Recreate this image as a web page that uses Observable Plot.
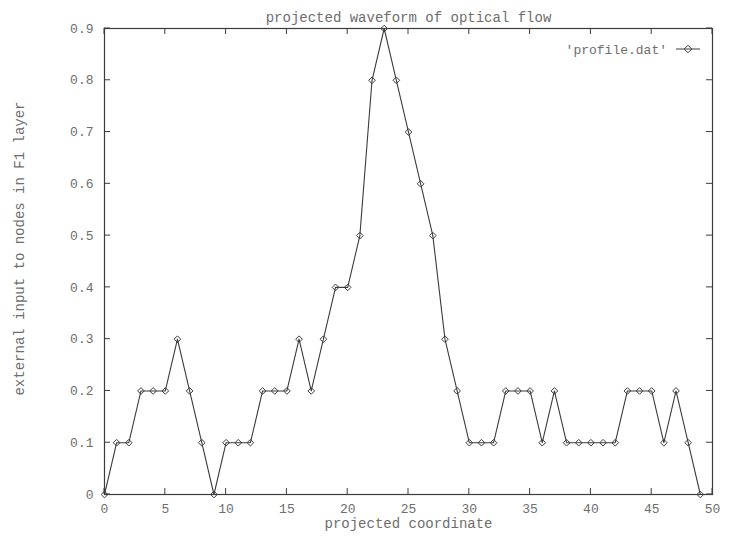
<!DOCTYPE html>
<html><head><meta charset="utf-8">
<script src="https://cdn.jsdelivr.net/npm/d3@7"></script>
<script src="https://cdn.jsdelivr.net/npm/@observablehq/plot@0.6"></script>
<style>body{margin:0;background:#fff}</style>
</head><body><div id="chart"></div>
<script>
const xs = [0,1,2,3,4,5,6,7,8,9,10,11,12,13,14,15,16,17,18,19,20,21,22,23,24,25,26,27,28,29,30,31,32,33,34,35,36,37,38,39,40,41,42,43,44,45,46,47,48,49];
const ys = [0,0.1,0.1,0.2,0.2,0.2,0.3,0.2,0.1,0,0.1,0.1,0.1,0.2,0.2,0.2,0.3,0.2,0.3,0.4,0.4,0.5,0.8,0.9,0.8,0.7,0.6,0.5,0.3,0.2,0.1,0.1,0.1,0.2,0.2,0.2,0.1,0.2,0.1,0.1,0.1,0.1,0.1,0.2,0.2,0.2,0.1,0.2,0.1,0];
const xTicks = [0,5,10,15,20,25,30,35,40,45,50];
const yTicks = [0,0.1,0.2,0.3,0.4,0.5,0.6,0.7,0.8,0.9];
const titleText = "projected waveform of optical flow";
const xLabelText = "projected coordinate";
const yLabelText = "external input to nodes in F1 layer";
const legendText = "'profile.dat'";

const data = xs.map((x, i) => ({x, y: ys[i]}));
const INK = "#3c3c3c", TXT = "#6e6e6e";
const svgNS = "http://www.w3.org/2000/svg";

function inwardTicks(index, scales, values, dim) {
  const g = document.createElementNS(svgNS, "g");
  g.setAttribute("stroke", INK);
  g.setAttribute("stroke-width", "1");
  const L = dim.marginLeft, R = dim.width - dim.marginRight, T = dim.marginTop, B = dim.height - dim.marginBottom;
  const len = 6;
  const add = (x1, y1, x2, y2) => {
    const l = document.createElementNS(svgNS, "line");
    l.setAttribute("x1", x1); l.setAttribute("y1", y1); l.setAttribute("x2", x2); l.setAttribute("y2", y2);
    g.appendChild(l);
  };
  for (const t of xTicks) { const px = scales.x(t); add(px, B, px, B - len); add(px, T, px, T + len); }
  for (const t of yTicks) { const py = scales.y(t); add(L, py, L + len, py); add(R, py, R - len, py); }
  return g;
}

function legend(index, scales, values, dim) {
  const g = document.createElementNS(svgNS, "g");
  const R = dim.width - dim.marginRight, T = dim.marginTop;
  const y = T + 21;
  const t = document.createElementNS(svgNS, "text");
  t.setAttribute("x", R - 45); t.setAttribute("y", y);
  t.setAttribute("text-anchor", "end"); t.setAttribute("dy", "0.35em");
  t.setAttribute("fill", TXT); t.setAttribute("font-size", "13");
  t.textContent = legendText;
  g.appendChild(t);
  const l = document.createElementNS(svgNS, "line");
  l.setAttribute("x1", R - 36); l.setAttribute("x2", R - 12);
  l.setAttribute("y1", y); l.setAttribute("y2", y);
  l.setAttribute("stroke", INK);
  g.appendChild(l);
  const p = document.createElementNS(svgNS, "path");
  const cx = R - 24, s = 3.8;
  p.setAttribute("d", `M${cx},${y - s}L${cx + s},${y}L${cx},${y + s}L${cx - s},${y}Z`);
  p.setAttribute("fill", "none"); p.setAttribute("stroke", INK);
  g.appendChild(p);
  return g;
}

const chart = Plot.plot({
  width: 729,
  height: 537,
  marginLeft: 104,
  marginRight: 17,
  marginTop: 28,
  marginBottom: 43,
  style: {fontFamily: "'Liberation Mono', 'DejaVu Sans Mono', monospace", fontSize: "13px", color: TXT, background: "#fff"},
  x: {domain: [0, 50]},
  y: {domain: [0, 0.9]},
  marks: [
    Plot.axisX({ticks: xTicks, tickSize: 0, tickPadding: 9, label: null, fill: TXT, fontSize: 13, tickFormat: d => String(d)}),
    Plot.axisY({ticks: yTicks, tickSize: 0, tickPadding: 11, label: null, fill: TXT, fontSize: 13, tickFormat: d => String(d)}),
    Plot.frame({stroke: INK, strokeWidth: 1.2}),
    inwardTicks,
    Plot.line(data, {x: "x", y: "y", stroke: INK, strokeWidth: 1.1}),
    Plot.dot(data, {x: "x", y: "y", symbol: "diamond2", r: 3, stroke: INK, fill: "none", strokeWidth: 1}),
    Plot.text([titleText], {text: d => d, frameAnchor: "top", dy: -16, fill: TXT, fontSize: 14}),
    Plot.text([xLabelText], {text: d => d, frameAnchor: "bottom", dy: 33, fill: TXT, fontSize: 14}),
    Plot.text([yLabelText], {text: d => d, frameAnchor: "left", textAnchor: "middle", rotate: -90, dx: -85, dy: -13, fill: TXT, fontSize: 14}),
    legend
  ]
});
document.getElementById("chart").appendChild(chart);
</script>
</body></html>
